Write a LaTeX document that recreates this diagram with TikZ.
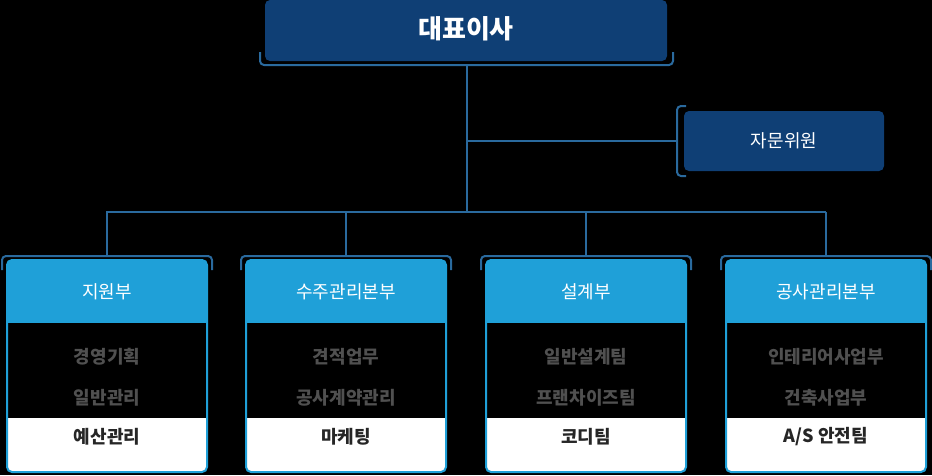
\documentclass[tikz,border=0pt]{standalone}
\usepackage{fontspec}
\setmainfont{Noto Sans CJK KR}
\begin{document}
\begin{tikzpicture}[x=1pt,y=-1pt,
  conn/.style={draw=linec,line width=1.6pt},
  brk/.style={draw=linec,line width=2pt,rounded corners=4pt},
  dark/.style={fill=navy,rounded corners=5pt},
  hdr/.style={text=white,font=\fontsize{18}{21}\selectfont},
  item/.style={text=graytx,font=\bfseries\fontsize{18}{21}\selectfont},
  itemb/.style={text=black!85,font=\bfseries\fontsize{18}{21}\selectfont}]
\definecolor{navy}{HTML}{0F3F75}
\definecolor{linec}{HTML}{2A6A9E}
\definecolor{sky}{HTML}{1FA0D8}
\definecolor{graytx}{HTML}{505050}
\fill[black] (0,0) rectangle (932,475);
\useasboundingbox (0,0) rectangle (932,475);
% CEO
\fill[dark] (265,0) rectangle (667,61);
\node[text=white,font=\bfseries\fontsize{26}{30}\selectfont] (ceo) at (466,29) {대표이사};
\draw[brk] (260,52) -- (260,65) -- (673,65) -- (673,52);
\coordinate (ceob) at (467,65);
% advisor
\fill[dark] (684,111) rectangle (884,171);
\node[hdr] (adv) at (784,141) {자문위원};
\draw[brk] (686,106) -- (677,106) -- (677,176) -- (686,176);
\coordinate (advl) at (677,141);
\coordinate (bus) at (467,212);
\draw[conn] (ceob) -- (bus);
\draw[conn] (467,141) -- (advl);
\draw[conn] (106,212) -- (826,212);
\foreach \x/\n/\a/\b/\c [count=\i] in {7/지원부/경영기획/일반관리/예산관리, 246/수주관리본부/견적업무/공사계약관리/마케팅, 486/설계부/일반설계팀/프랜차이즈팀/코디팀, 726/공사관리본부/인테리어사업부/건축사업부/{A/S 안전팀}}{
  \pgfmathsetmacro{\cx}{\x+100}
  \draw[conn] (\cx,212) -- (\cx,256);
  \draw[brk] (\x-5,270) -- (\x-5,256) -- (\x+205,256) -- (\x+205,270);
  \fill[white,rounded corners=5pt] (\x,260) rectangle (\x+200,472);
  \fill[sky,rounded corners=5pt] (\x,260) rectangle (\x+200,340);
  \fill[black] (\x,323) rectangle (\x+200,418);
  \draw[sky,line width=2pt,rounded corners=5pt] (\x,260) rectangle (\x+200,472);
  \node[hdr] (h\i) at (\cx,292) {\n};
  \node[item] (a\i) at (\cx,357) {\a};
  \node[item] (b\i) at (\cx,398) {\b};
  \node[itemb] (c\i) at (\cx,437) {\c};
}
\end{tikzpicture}
\end{document}
